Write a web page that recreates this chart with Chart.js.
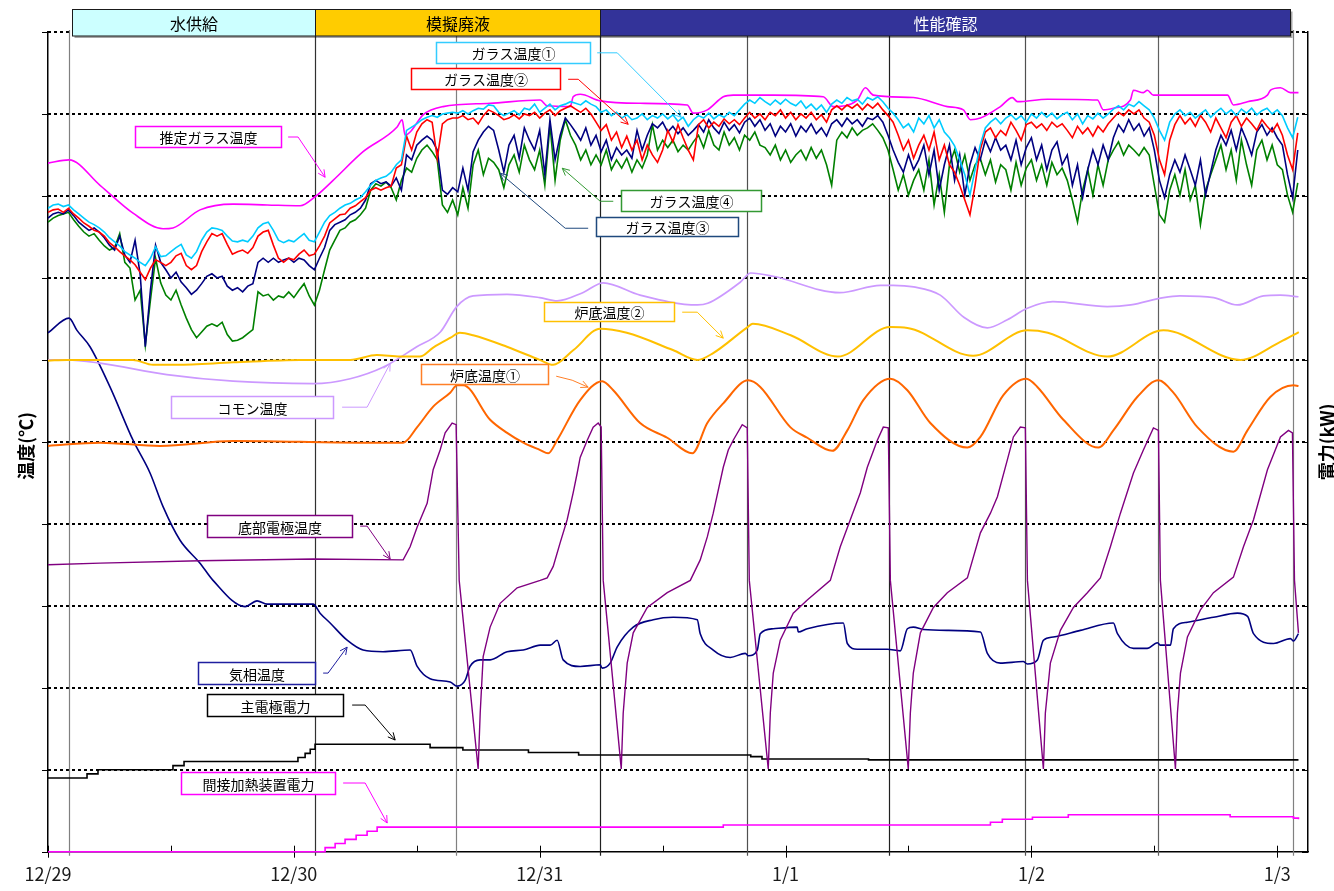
<!DOCTYPE html>
<html lang="ja">
<head>
<meta charset="utf-8">
<title>運転トレンド</title>
<script src="https://cdn.jsdelivr.net/npm/chart.js@4.4.1/dist/chart.umd.min.js"></script>
<style>
  html, body { margin: 0; padding: 0; background: #ffffff; }
  #wrap { width: 1334px; height: 891px; }
</style>
</head>
<body>
<div id="wrap"><canvas id="trendChart" width="1334" height="891"></canvas></div>
<script>
// 横軸は 12/29 0:00 からの経過時間 [h]、温度は左軸 [℃]、電力は右軸 [kW]
const dayLabels = ['12/29', '12/30', '12/31', '1/1', '1/2', '1/3'];

// ガラス温度 ①～④ (30分ごと)
const glass1 = [
  785,789,790,787,789,783,778,773,768,765, 761,756,749,744,739,732,728,724,719,715,
  724,738,726,727,732,737,741,728,724,732, 746,756,761,760,758,751,745,744,746,744,
  751,761,766,768,758,746,743,746,744,749, 754,746,744,756,768,776,780,785,789,791,
  795,798,805,813,819,822,824,829,838,844, 880,884,888,893,896,898,896,900,901,902,
  901,904,900,904,907,906,911,910,902,898, 901,904,899,907,905,912,902,907,912,905,
  910,912,915,913,911,916,912,909,902,905, 898,902,895,899,893,895,900,893,898,895,
  900,894,899,891,896,885,893,898,895,901, 894,899,896,902,898,905,912,917,913,920,
  915,911,917,912,918,913,910,916,907,912, 905,911,902,912,917,913,920,916,918,912,
  920,917,921,915,907,901,893,883,888,878, 895,888,898,883,893,878,871,861,844,826,
  801,832,862,883,890,895,888,895,899,893, 898,890,900,895,902,896,901,894,899,902,
  893,900,888,898,894,901,895,900,906,910, 905,912,909,915,910,905,895,880,868,890,
  900,905,898,902,895,900,905,896,902,907, 900,905,898,906,901,907,899,904,907,900,
  905,898,883,871,896
];
const glass2 = [
  780,783,784,780,785,778,773,767,763,758, 756,751,743,738,732,727,722,716,707,698,
  712,722,719,715,719,727,730,715,710,715, 732,744,754,751,754,741,729,732,734,730,
  737,751,756,758,740,724,719,724,722,729, 734,727,729,739,751,767,772,777,778,785,
  788,793,798,807,810,807,810,812,834,838, 873,856,878,888,893,890,846,888,893,895,
  895,898,893,895,888,898,905,902,898,893, 895,899,894,900,898,902,895,901,905,898,
  904,907,910,906,902,907,900,890,880,887, 868,878,859,873,856,868,844,862,850,841,
  856,880,866,887,871,856,844,887,893,883, 890,885,894,888,893,887,895,902,895,900,
  893,902,898,905,895,902,893,900,895,902, 893,899,890,905,910,905,911,907,912,905,
  912,907,913,905,898,890,874,856,868,846, 862,874,856,878,844,862,838,829,813,795,
  777,813,856,878,883,871,880,874,890,880, 868,887,890,883,888,880,890,884,888,880,
  871,885,876,883,873,885,878,888,895,902, 898,905,900,905,895,890,874,844,826,868,
  887,898,888,895,885,898,890,878,895,883, 871,890,898,885,895,888,880,893,885,878,
  888,874,850,832,877
];
const glass3 = [
  773,778,780,778,783,776,768,763,758,761, 756,749,740,734,751,728,719,746,704,616,
  685,740,719,710,700,707,695,688,680,685, 693,702,705,700,702,690,685,688,683,690,
  693,719,724,719,724,719,722,724,719,724, 722,715,710,724,737,758,765,768,771,777,
  780,785,795,815,819,815,817,812,822,807, 850,844,862,868,873,868,856,807,802,810,
  805,834,807,854,868,878,885,880,856,829, 862,874,846,883,868,856,880,826,893,844,
  874,895,887,878,868,883,862,874,854,868, 844,859,850,856,846,880,856,874,888,883,
  890,878,885,876,883,874,880,887,878,893, 883,876,890,880,887,877,890,895,885,893,
  880,888,873,885,878,888,873,885,878,888, 876,883,873,888,893,885,895,888,893,885,
  895,893,898,890,874,856,841,829,850,832, 844,862,826,856,807,838,862,819,850,801,
  838,859,844,868,854,871,856,862,844,868, 838,859,871,844,862,832,856,866,838,850,
  813,838,798,832,856,838,862,844,871,887, 878,893,880,888,873,883,856,819,798,826,
  844,829,850,832,813,844,801,829,856,874, 862,880,856,883,868,850,878,887,874,883,
  871,862,826,798,856
];
const glass4 = [
  768,773,776,778,780,771,763,756,751,754, 746,739,734,737,754,719,712,673,685,618,
  673,724,694,679,673,685,667,651,637,627, 634,641,644,641,646,631,623,624,627,632,
  637,683,678,680,673,678,676,683,676,685, 693,678,667,685,710,734,746,758,761,768,
  771,777,785,807,815,812,817,810,795,819, 834,829,846,856,862,854,844,789,780,795,
  777,810,785,838,856,826,846,841,832,810, 838,850,829,862,844,832,856,813,887,819,
  868,893,874,862,844,856,838,850,838,856, 832,844,834,846,829,844,834,850,887,856,
  868,859,868,854,862,856,866,874,859,880, 862,856,878,862,871,856,874,868,878,862,
  859,850,862,844,856,841,850,856,844,859, 846,856,838,813,868,878,871,883,874,880,
  883,888,880,871,856,832,807,826,801,819, 832,807,844,789,826,780,838,856,829,850,
  819,838,846,826,844,817,838,832,807,841, 813,834,844,819,838,813,841,826,834,819,
  795,768,807,832,801,838,813,844,856,866, 850,862,856,849,859,850,813,777,768,807,
  826,801,832,795,813,765,807,826,844,862, 832,856,819,868,838,813,856,868,844,862,
  838,832,801,780,816
];

// 推定ガラス温度
const estHours = [0, 2.05, 5.08, 8.3, 11.23, 12.2, 14.84, 18.07, 21.39, 24.61, 26.07, 27.83, 30.76, 34.08, 34.57,
  34.86, 35.35, 36.62, 38.57, 43.16, 48.05, 48.73, 50.98, 51.27, 51.95, 53.9, 57.81, 62.4, 62.99, 64.36,
  65.92, 66.89, 70.8, 75.68, 76.66, 79.0, 79.79, 80.57, 84.47, 87.79, 89.36, 90.04, 91.02, 92.97, 94.14,
  94.63, 97.56, 102.44, 103.03, 104.0, 105.66, 105.96, 106.93, 107.32, 107.91, 115.14, 115.72, 117.09, 119.04, 119.34,
  120.31, 121.29, 122.07];
const estTemp = [840, 844, 813, 779, 760, 761, 783, 790, 789, 788, 799, 819, 854, 884, 893,
  874, 878, 899, 909, 913, 917, 910, 909, 921, 924, 916, 913, 911, 901, 905,
  921, 923, 923, 921, 909, 917, 932, 923, 920, 909, 905, 893, 895, 909, 920,
  915, 918, 917, 905, 907, 917, 929, 926, 929, 923, 923, 911, 915, 923, 929,
  932, 926, 926];

// 炉底温度②
const bot2Hours = [0, 1.86, 8.3, 10.25, 12.6, 18.07, 24.6, 29.5, 32.1, 34.4, 36.3, 37.6, 39.3, 40.2, 41.5,
  44.8, 48.0, 49.3, 51.3, 53.9, 56.5, 61.0, 63.4, 64.9, 68.3, 68.8, 72.5, 77.1, 82.2, 83.9,
  90.3, 95.6, 97.6, 103.4, 108.9, 116.4, 120.3, 122.1];
const bot2Temp = [599, 600, 600, 594, 594, 597, 600, 600, 606, 604, 604, 615, 627, 633, 630,
  616, 600, 594, 612, 638, 633, 612, 600, 608, 640, 644, 630, 604, 640, 639,
  605, 636, 633, 604, 636, 600, 622, 634];

// 炉底温度①
const bot1Hours = [0, 5.08, 10.94, 18.07, 24.6, 31.15, 34.67, 36.04, 37.6, 39.26, 39.94, 40.53, 43.16, 44.82, 46.4,
  48.05, 48.83, 49.7, 51.95, 54.1, 55.18, 57.8, 60.45, 62.9, 64.36, 65.92, 68.36, 69.53, 72.46, 74.12,
  76.56, 78.03, 79.59, 82.23, 83.89, 86.13, 89.75, 91.02, 93.26, 95.51, 96.58, 99.12, 102.54, 104.0, 106.35,
  108.4, 109.86, 112.2, 115.72, 117.09, 119.34, 121.58, 122.07];
const bot1Temp = [495, 499, 495, 501, 500, 499, 499, 518, 543, 560, 569, 569, 527, 511, 499,
  490, 486, 502, 551, 574, 563, 523, 505, 486, 523, 547, 575, 567, 518, 505,
  489, 514, 551, 577, 563, 523, 493, 506, 557, 577, 567, 527, 493, 514, 555,
  575, 560, 518, 488, 514, 555, 569, 568];

// コモン温度
const comHours = [0, 1.86, 5.08, 11.6, 18.07, 25.9, 29.5, 32.7, 36.0, 38.3, 39.9, 41.5, 44.8, 48.0, 49.7,
  52.2, 54.2, 57.8, 63.4, 64.4, 67.6, 68.6, 70.8, 77.3, 81.25, 82.5, 84.5, 87.1, 89.4, 91.7,
  93.65, 95.6, 98.1, 103.4, 105.7, 108.9, 110.5, 113.8, 116.1, 118.65, 120.3, 122.07];
const comTemp = [600, 600, 596, 582, 574, 571, 577, 591, 616, 634, 665, 678, 680, 676, 672,
  682, 694, 679, 667, 669, 695, 706, 702, 682, 691, 691, 689, 679, 652, 639,
  649, 663, 671, 665, 667, 676, 678, 676, 667, 678, 679, 677];

// 底部電極温度 (急降下→回復→上昇 を繰り返す)
const elecHours = [0, 5.08, 14.84, 25.9, 34.67, 35.35, 36.04, 37.01, 37.6, 38.28, 38.77, 39.45, 39.84,
  40.14, 41.99,
  42.19, 42.48, 43.16, 44.14, 45.8, 48.05,
  48.73, 49.32, 50.0, 50.68, 51.27, 51.66, 51.95, 52.64, 53.22, 53.71, 54.0,
  54.2, 55.96,
  56.15, 56.54, 57.13, 58.5, 60.45, 62.7,
  63.67, 64.36, 64.94, 65.92, 66.41, 66.89, 67.77, 68.26,
  68.46, 70.31,
  70.51, 70.8, 71.48, 72.75, 74.12, 76.37,
  77.34, 78.32, 79.3, 79.98, 80.96, 81.54, 82.03,
  82.23, 83.98,
  84.18, 84.47, 85.16, 86.43, 87.79, 89.75,
  91.02, 92.0, 92.68, 93.65, 94.24, 94.92, 95.41,
  95.61, 97.17,
  97.36, 97.85, 98.83, 100.1, 101.46, 102.73,
  103.71, 104.69, 105.96, 106.93, 107.91, 108.4,
  108.59, 110.06,
  110.25, 110.55, 111.23, 112.5, 113.77, 115.72,
  116.7, 117.68, 119.04, 120.31, 121.09, 121.48,
  121.68, 122.07];
const elecTemp = [350, 352, 355, 357, 356, 372, 396, 425, 466, 490, 511, 523, 521,
  331, 101,
  169, 238, 274, 303, 322, 331,
  334, 348, 377, 405, 438, 462, 481, 502, 518, 523, 518,
  331, 101,
  169, 230, 267, 298, 316, 331,
  356, 384, 413, 469, 490, 502, 521, 517,
  331, 101,
  169, 218, 258, 291, 307, 331,
  372, 405, 438, 469, 502, 518, 517,
  331, 101,
  169, 218, 267, 298, 316, 334,
  389, 413, 433, 478, 506, 518, 517,
  331, 101,
  169, 230, 270, 298, 316, 334,
  372, 413, 462, 490, 517, 514,
  331, 101,
  169, 218, 262, 295, 316, 335,
  372, 405, 466, 506, 514, 511,
  331, 267];

// 気相温度
const gasHours = [0, 2.05, 2.83, 4.1, 6.05, 8.3, 9.96, 11.23, 12.89, 14.84,
  16.11, 19.24, 20.41, 21.39, 25.88, 26.56, 27.54, 29.2, 30.76, 32.71,
  35.35, 36.04, 37.3, 39.26, 39.94, 40.72, 41.2, 42.19, 43.16, 44.82,
  46.39, 48.05, 49.02, 49.7, 50.29, 51.95, 53.9, 54.1, 54.88, 55.57,
  57.13, 59.08, 61.04, 63.38, 63.67, 64.94, 66.6, 68.07, 68.36, 69.24,
  69.53, 70.8, 73.14, 73.24, 74.12, 77.64, 78.03, 79.0, 81.93, 83.2,
  83.89, 84.47, 85.45, 87.79, 91.02, 91.7, 92.97, 95.2, 95.6, 96.58,
  97.17, 98.14, 100.78, 104.0, 104.4, 105.96, 107.3, 108.3, 108.6, 109.57,
  109.86, 111.23, 113.77, 116.11, 117.1, 117.68, 119.63, 121.29, 121.58, 122.07];
const gasTemp = [633, 651, 636, 616, 567, 502, 462, 421, 380, 352,
  331, 299, 306, 302, 302, 291, 279, 258, 246, 244,
  246, 226, 211, 207, 202, 209, 226, 234, 234, 244,
  246, 252, 252, 258, 234, 226, 228, 224, 230, 250,
  274, 283, 286, 283, 266, 246, 237, 242, 239, 246,
  266, 272, 274, 268, 272, 279, 254, 247, 247, 245,
  272, 274, 271, 270, 268, 242, 230, 232, 229, 234,
  258, 262, 270, 279, 266, 248, 248, 255, 252, 252,
  272, 280, 286, 291, 287, 266, 254, 260, 257, 266];

// 主電極電力・間接加熱装置電力 (段階変化した時刻と変更後の値)
const mainHours = [0, 3.81, 4.88, 12.2, 13.28, 24.4, 25.1, 25.6, 26.07, 37.3, 40.5, 46.9, 51.8, 68.6, 69.7, 80.1, 122.07];
const mainPower = [9.0, 9.5, 10.0, 10.5, 11.0, 11.5, 12.0, 12.5, 13.1, 12.7, 12.4, 12.1, 11.8, 11.6, 11.3, 11.2, 11.2];
const heaterHours = [0, 27.05, 28.03, 29.0, 30.08, 31.15, 32.13, 65.92, 92.0, 93.16, 96.1, 99.6, 115.4, 121.58, 122.07];
const heaterPower = [0, 0.5, 1.0, 1.5, 2.0, 2.5, 3.0, 3.25, 3.6, 3.95, 4.2, 4.5, 4.27, 4.1, 3.95];

// 運転区分と操作時刻
const phases = [
  { label: '水供給', from: 2.31, to: 26.07, fill: '#CCFFFF', text: '#000000' },
  { label: '模擬廃液', from: 26.07, to: 53.9, fill: '#FFCC00', text: '#000000' },
  { label: '性能確認', from: 53.9, to: 121.2, fill: '#333399', text: '#FFFFFF' }
];
const eventHours = [2.05, 26.07, 39.84, 53.9, 68.26, 82.13, 95.41, 108.4, 121.55];
const eventColors = ['#808080', '#303030', '#808080', '#202020', '#505050', '#202020', '#505050', '#606060', '#808080'];

// 系列名の吹き出し (位置は 時間, 温度軸の値)
const callouts = [
  { text: 'ガラス温度①', color: '#33CCFF', at: [45.41, 974.6], w: 154, h: 21, path: [[53.61, 974.6], [55.57, 974.6], [61.82, 895.9]] },
  { text: 'ガラス温度②', color: '#FF0000', at: [42.72, 943.2], w: 149, h: 21, path: [[50.78, 942.3], [51.76, 942.3], [56.64, 887.4]] },
  { text: '推定ガラス温度', color: '#FF00FF', at: [15.63, 872.4], w: 146, h: 21, path: [[23.44, 871.9], [24.41, 871.9], [27.05, 822.8]] },
  { text: 'ガラス温度④', color: '#339933', at: [62.77, 794.1], w: 140, h: 21, path: [[55.18, 793.5], [53.91, 793.5], [50.2, 833.8]] },
  { text: 'ガラス温度③', color: '#1F497D', at: [60.45, 763.0], w: 142, h: 19, path: [[52.73, 760.6], [50.49, 760.6], [44.14, 827.7]] },
  { text: '炉底温度②', color: '#FFC000', at: [54.79, 658.8], w: 130, h: 19, path: [[61.91, 658.2], [63.38, 658.2], [65.92, 626.5]] },
  { text: '炉底温度①', color: '#FF7F27', at: [42.63, 582.6], w: 127, h: 20, path: [[49.61, 580.1], [51.17, 575.2], [52.73, 566.7]] },
  { text: 'コモン温度', color: '#CC99FF', at: [19.92, 542.3], w: 162, h: 22, path: [[28.71, 542.3], [31.15, 542.3], [33.4, 595.5]] },
  { text: '底部電極温度', color: '#800080', at: [22.61, 397.2], w: 145, h: 22, path: [[30.47, 397.2], [31.15, 397.2], [33.4, 357.0]] },
  { text: '気相温度', color: '#1F1F9F', at: [20.36, 217.9], w: 117, h: 22, path: [[26.86, 217.9], [27.34, 217.9], [29.2, 249.6]] },
  { text: '主電極電力', color: '#000000', at: [22.17, 178.9], w: 136, h: 22, path: [[29.69, 178.9], [30.96, 178.9], [33.89, 136.2]] },
  { text: '間接加熱装置電力', color: '#FF00FF', at: [20.51, 83.8], w: 154, h: 22, path: [[28.81, 83.8], [30.96, 83.8], [33.11, 35.0]] }
];

const JP = '"Noto Sans CJK JP", "Noto Sans", sans-serif';
const glassHours = glass1.map((_, i) => i * 0.5);
const pts = (hours, values) => hours.map((h, i) => ({ x: h, y: values[i] }));
const smooth = { cubicInterpolationMode: 'monotone' };

function series(label, hours, values, color, width, extra) {
  return Object.assign({
    label: label,
    data: pts(hours, values),
    borderColor: color,
    backgroundColor: color,
    borderWidth: width,
    pointRadius: 0,
    tension: 0,
    fill: false,
    yAxisID: 'y'
  }, extra || {});
}

// 破線グリッド、目盛り、操作時刻の縦線
const backdrop = {
  id: 'backdrop',
  beforeDatasetsDraw(chart) {
    const { ctx, chartArea: a, scales: { x, y } } = chart;
    ctx.save();
    ctx.strokeStyle = '#000';
    ctx.lineWidth = 2;
    ctx.setLineDash([3, 3]);
    for (let t = 100; t <= 1000; t += 100) {
      const py = Math.round(y.getPixelForValue(t));
      ctx.beginPath();
      ctx.moveTo(a.left, py);
      ctx.lineTo(a.right, py);
      ctx.stroke();
    }
    ctx.setLineDash([]);
    ctx.lineWidth = 1;
    for (let t = 0; t <= 1000; t += 100) {
      const py = Math.round(y.getPixelForValue(t)) + 0.5;
      ctx.beginPath();
      ctx.moveTo(a.left - 6, py); ctx.lineTo(a.left, py);
      ctx.moveTo(a.right - 6, py); ctx.lineTo(a.right, py);
      ctx.stroke();
    }
    for (let h = 0; h <= 120; h += 12) {
      const px = Math.round(x.getPixelForValue(h)) + 0.5;
      const major = h % 24 === 0;
      ctx.beginPath();
      ctx.moveTo(px, a.bottom - 6);
      ctx.lineTo(px, major ? a.bottom + 6 : a.bottom);
      ctx.stroke();
    }
    eventHours.forEach((h, i) => {
      const px = Math.round(x.getPixelForValue(h)) + 0.5;
      ctx.strokeStyle = eventColors[i];
      ctx.lineWidth = 1.2;
      ctx.beginPath();
      ctx.moveTo(px, a.top - 2);
      ctx.lineTo(px, a.bottom + 4);
      ctx.stroke();
    });
    ctx.restore();
  }
};

// 運転区分の帯、吹き出し、軸タイトル
const overlay = {
  id: 'overlay',
  afterDraw(chart) {
    const { ctx, chartArea: a, scales: { x, y } } = chart;
    ctx.save();

    const bandTop = a.top - 22.5, bandH = 26.5;
    phases.forEach(p => {
      const x0 = Math.round(x.getPixelForValue(p.from)) + 0.5;
      const x1 = Math.round(x.getPixelForValue(p.to)) + 0.5;
      ctx.save();
      ctx.shadowColor = 'rgba(0,0,0,0.35)';
      ctx.shadowOffsetX = 2;
      ctx.shadowOffsetY = 2;
      ctx.fillStyle = p.fill;
      ctx.fillRect(x0, bandTop, x1 - x0, bandH);
      ctx.restore();
      ctx.strokeStyle = '#1a1a1a';
      ctx.lineWidth = 1;
      ctx.strokeRect(x0, bandTop, x1 - x0, bandH);
      ctx.fillStyle = p.text;
      ctx.font = '16px ' + JP;
      ctx.textAlign = 'center';
      ctx.textBaseline = 'middle';
      ctx.fillText(p.label, (x0 + x1) / 2, bandTop + bandH / 2 + 1);
    });

    callouts.forEach(c => {
      const cx = x.getPixelForValue(c.at[0]);
      const cy = y.getPixelForValue(c.at[1]);
      const left = Math.round(cx - c.w / 2) + 0.5;
      const top = Math.round(cy - c.h / 2) + 0.5;
      ctx.fillStyle = '#ffffff';
      ctx.fillRect(left, top, c.w, c.h);
      ctx.strokeStyle = c.color;
      ctx.lineWidth = 1.5;
      ctx.strokeRect(left, top, c.w, c.h);
      ctx.fillStyle = '#000';
      ctx.font = '14px ' + JP;
      ctx.textAlign = 'center';
      ctx.textBaseline = 'middle';
      ctx.fillText(c.text, left + c.w / 2, top + c.h / 2 + 1);

      const p = c.path.map(([h, t]) => [x.getPixelForValue(h), y.getPixelForValue(t)]);
      ctx.lineWidth = 1;
      ctx.beginPath();
      ctx.moveTo(p[0][0], p[0][1]);
      for (let i = 1; i < p.length; i++) ctx.lineTo(p[i][0], p[i][1]);
      const [x1, y1] = p[p.length - 2];
      const [x2, y2] = p[p.length - 1];
      const ang = Math.atan2(y2 - y1, x2 - x1);
      ctx.moveTo(x2 - 8 * Math.cos(ang - 0.45), y2 - 8 * Math.sin(ang - 0.45));
      ctx.lineTo(x2, y2);
      ctx.lineTo(x2 - 8 * Math.cos(ang + 0.45), y2 - 8 * Math.sin(ang + 0.45));
      ctx.stroke();
    });

    ctx.fillStyle = '#000';
    ctx.font = 'bold 18px ' + JP;
    ctx.textAlign = 'center';
    ctx.textBaseline = 'middle';
    const midY = (a.top + a.bottom) / 2;
    ctx.save();
    ctx.translate(a.left - 22, midY + 4);
    ctx.rotate(-Math.PI / 2);
    ctx.fillText('温度(℃)', 0, 0);
    ctx.restore();
    ctx.save();
    ctx.translate(a.right + 19, midY);
    ctx.rotate(-Math.PI / 2);
    ctx.fillText('電力(kW)', 0, 0);
    ctx.restore();

    ctx.restore();
  }
};

new Chart(document.getElementById('trendChart').getContext('2d'), {
  type: 'line',
  data: {
    datasets: [
      series('ガラス温度①', glassHours, glass1, '#00CCFF', 1.6),
      series('ガラス温度②', glassHours, glass2, '#FF0000', 1.6),
      series('ガラス温度③', glassHours, glass3, '#000080', 1.6),
      series('ガラス温度④', glassHours, glass4, '#008000', 1.6),
      series('推定ガラス温度', estHours, estTemp, '#FF00FF', 1.6, smooth),
      series('炉底温度②', bot2Hours, bot2Temp, '#FFC000', 2, smooth),
      series('炉底温度①', bot1Hours, bot1Temp, '#FF6600', 2, smooth),
      series('コモン温度', comHours, comTemp, '#CC99FF', 1.7, smooth),
      series('底部電極温度', elecHours, elecTemp, '#800080', 1.4),
      series('気相温度', gasHours, gasTemp, '#000080', 1.6, smooth),
      series('主電極電力', mainHours, mainPower, '#000000', 1.6, { yAxisID: 'y1', stepped: true }),
      series('間接加熱装置電力', heaterHours, heaterPower, '#FF00FF', 1.6, { yAxisID: 'y1', stepped: true, clip: false })
    ]
  },
  options: {
    responsive: false,
    animation: false,
    devicePixelRatio: 1,
    layout: { padding: { left: 48, right: 26, top: 32, bottom: 0 } },
    plugins: {
      legend: { display: false },
      tooltip: { enabled: false }
    },
    scales: {
      x: {
        type: 'linear',
        min: 0,
        max: 123,
        grid: { display: false, drawTicks: false },
        border: { display: true, color: '#000', width: 1.5 },
        ticks: {
          stepSize: 24,
          includeBounds: false,
          autoSkip: false,
          maxRotation: 0,
          padding: 12,
          color: '#1a1a1a',
          font: { family: JP, size: 18 },
          callback: v => dayLabels[v / 24]
        },
        afterFit(scale) { scale.height = 39.3; }
      },
      y: {
        position: 'left',
        min: 0,
        max: 1000,
        grid: { display: false, drawTicks: false },
        border: { display: true, color: '#000', width: 1.5 },
        ticks: { display: false, stepSize: 100 },
        afterFit(scale) { scale.width = 0; }
      },
      y1: {
        position: 'right',
        min: 0,
        max: 100,
        grid: { display: false, drawTicks: false },
        border: { display: true, color: '#000', width: 1.5 },
        ticks: { display: false, stepSize: 10 },
        afterFit(scale) { scale.width = 0; }
      }
    }
  },
  plugins: [backdrop, overlay]
});
</script>
</body>
</html>
